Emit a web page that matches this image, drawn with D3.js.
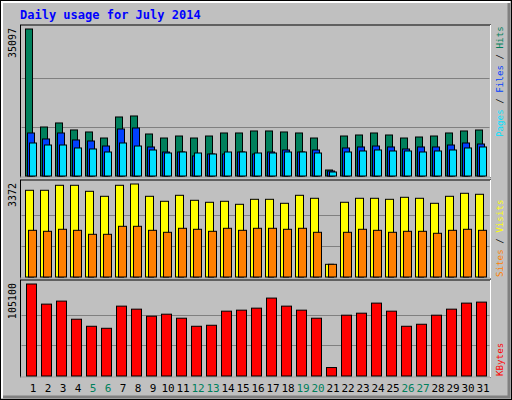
<!DOCTYPE html><html><head><meta charset="utf-8"><script src="https://cdn.jsdelivr.net/npm/d3@7"></script>
<style>body{margin:0;background:#fff}text{font-family:"DejaVu Sans Mono",monospace}</style></head><body><svg id="c" width="512" height="400"></svg>
<script>
const days=d3.range(1,32);
const weekends=[5,6,12,13,19,20,26,27];
const hits=[35097,11700,12660,10990,10510,9070,14090,14330,10030,9070,9550,9070,9550,10270,10270,10750,10750,10510,10270,9070,1430,9550,9790,10270,9790,9070,9310,9550,10270,10750,10980];
const files=[10270,8840,10270,8600,8360,7160,11220,11460,6930,5730,5730,4780,5250,5250,5730,5250,5730,6210,5730,6210,1190,6690,6930,7160,6930,6450,6930,6930,7400,7880,7640];
const pages=[7880,7400,7400,6690,6450,5730,7880,7160,6210,5490,5730,5490,5250,5730,5730,5490,5490,5730,5730,5490,960,5730,5970,6210,5970,5970,5730,5970,6210,6690,6930];
const visits=[3144,3144,3325,3325,3107,2926,3325,3372,2926,2745,2962,2781,2709,2745,2636,2817,2817,2672,2962,2854,460,2709,2854,2854,2817,2890,2854,2672,2926,3035,2999];
const sites=[1693,1657,1730,1693,1548,1548,1838,1838,1693,1621,1766,1730,1657,1766,1693,1766,1766,1730,1766,1621,460,1621,1730,1693,1621,1657,1657,1585,1693,1730,1693];
const kbytes=[105100,82110,85560,64860,56810,54510,79810,76360,68310,70610,66010,56810,57960,74060,75210,77510,89010,79810,75210,66010,9660,69460,71760,83260,74060,56810,59110,69460,76360,83260,84410];
const maxLabels=["35097","3372","105100"];
const svg=d3.select("#c");
svg.append("rect").attr("x",0.5).attr("y",0.5).attr("width",511).attr("height",399).attr("fill","#C0C0C0").attr("stroke","#000");
svg.append("path").attr("d","M2,398V2H510").attr("stroke","#fff").attr("stroke-width",2).attr("fill","none");
svg.append("path").attr("d","M3,397H509V3").attr("stroke","#808080").attr("stroke-width",3).attr("fill","none");
svg.append("text").attr("x",20).attr("y",19).attr("fill","#0000FF").attr("font-size",12).attr("font-weight","bold").text("Daily usage for July 2014");
const x=d3.scaleLinear().domain([1,31]).range([33,483]);
const L=20.5,R=490.5;
function panel(y0,y1,top,maxv,series,label,lab){
  svg.append("rect").attr("x",L).attr("y",y0).attr("width",R-L).attr("height",y1-y0).attr("fill","#C0C0C0").attr("stroke","#000");
  svg.append("path").attr("d",`M${L},${y1}H${R}V${y0}`).attr("stroke","#fff").attr("fill","none");
  const y=d3.scaleLinear().domain([0,maxv]).range([y1-1,top]);
  [1/3,2/3].forEach(f=>svg.append("line").attr("x1",L+1).attr("x2",R-1).attr("y1",Math.round(y(maxv*f))+0.5).attr("y2",Math.round(y(maxv*f))+0.5).attr("stroke","#808080"));
  series.forEach(s=>{
    svg.append("g").selectAll("rect").data(s.v).join("rect")
      .attr("x",(d,i)=>x(i+1)-7.5+s.off).attr("width",s.w)
      .attr("y",d=>y(d)).attr("height",d=>y(0)-y(d))
      .attr("fill",s.c).attr("stroke","#000");
  });
  svg.append("text").attr("transform",`translate(16,${top-1})rotate(-90)`).attr("text-anchor","end").attr("font-size",10).text(label);
  const t=svg.append("text").attr("transform",`translate(503,${lab.y})rotate(-90)`).attr("font-size",9.2);
  lab.parts.forEach(p=>t.append("tspan").attr("fill",p[1]).text(p[0]));
}
panel(25,177,29,35097,[{v:hits,c:"#00805C",off:0,w:7},{v:files,c:"#0040FF",off:2,w:7},{v:pages,c:"#00E0FF",off:4,w:7}],maxLabels[0],{y:137,parts:[["Pages","#00E0FF"],[" / ","#000"],["Files","#0040FF"],[" / ","#000"],["Hits","#00805C"]]});
panel(180,278,184,3372,[{v:visits,c:"#FFFF00",off:0,w:8},{v:sites,c:"#FF8000",off:3,w:8}],maxLabels[1],{y:277,parts:[["Sites","#FF8000"],[" / ","#000"],["Visits","#FFFF00"]]});
panel(280,377,284,105100,[{v:kbytes,c:"#FF0000",off:1,w:10}],maxLabels[2],{y:376,parts:[["KBytes","#FF0000"]]});
svg.append("g").selectAll("text").data(days).join("text").attr("x",d=>x(d)).attr("y",392).attr("text-anchor","middle").attr("font-size",11)
 .attr("fill",d=>weekends.includes(d)?"#00805C":"#000").text(d=>d);
</script></body></html>
